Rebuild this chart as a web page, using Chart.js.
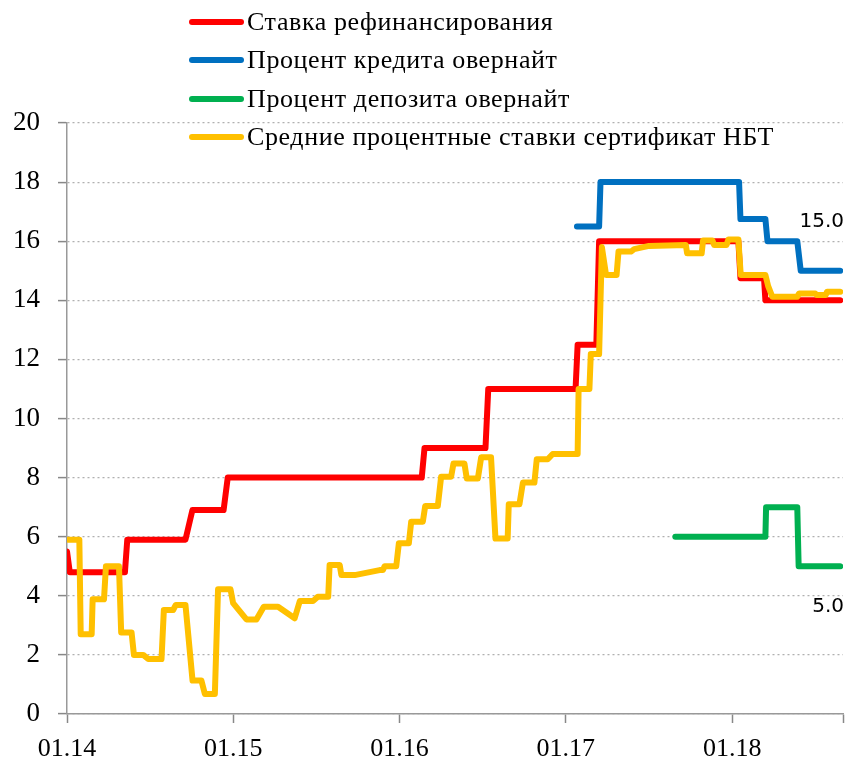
<!DOCTYPE html>
<html>
<head>
<meta charset="utf-8">
<script src="https://cdn.jsdelivr.net/npm/chart.js@4/dist/chart.umd.min.js"></script>
<style>
  body { margin: 0; background: #fff; }
  #wrap { position: relative; width: 861px; height: 764px; }
  #legend { position: absolute; left: 189px; top: 3px; font-family: "Liberation Serif", serif; font-size: 26px; letter-spacing: 0.6px; color: #000; }
  #legend div { height: 38.3px; display: flex; align-items: center; }
  #legend span.swatch { display: inline-block; width: 55px; height: 6px; border-radius: 3px; margin-right: 3px; }
</style>
</head>
<body>
<div id="wrap">
  <canvas id="chart" width="861" height="764"></canvas>
  <div id="legend"></div>
</div>
<script>
// x = months since 01.2014
const refiX = [0, 0.2, 4.18, 4.35, 8.55, 9.05, 11.3, 11.6, 25.6, 25.8, 30.2, 30.4, 36.7, 36.85, 38.2, 38.4, 48.45, 48.6, 50.3, 50.4, 55.8];
const refiY = [5.5, 4.8, 4.8, 5.9, 5.9, 6.9, 6.9, 8.0, 8.0, 9.0, 9.0, 11.0, 11.0, 12.5, 12.5, 16.0, 16.0, 14.75, 14.75, 14.0, 14.0];

const creditX = [36.8, 38.4, 38.5, 48.5, 48.6, 50.4, 50.55, 52.7, 52.95, 55.8];
const creditY = [16.5, 16.5, 18, 18, 16.75, 16.75, 16, 16, 15, 15];

const depositX = [43.9, 50.4, 50.45, 52.7, 52.8, 55.8];
const depositY = [6, 6, 7, 7, 5, 5];

const certX = [0.05, 0.89, 0.99, 1.78, 1.85, 2.67, 2.81, 3.75, 3.91, 4.66, 4.83, 5.5, 5.86, 6.82, 6.99, 7.66, 7.85, 8.55, 9.06, 9.7,
  9.95, 10.67, 10.9, 11.8, 11.99, 12.95, 13.67, 14.2, 15.23, 16.43, 16.8, 17.75, 18.1, 18.85, 18.95, 19.68, 19.8, 20.76, 22.56, 22.8,
  22.92, 23.76, 23.95, 24.67, 24.84, 25.68, 25.85, 26.76, 27.0, 27.72, 27.89, 28.68, 28.85, 29.65, 29.89, 30.6, 30.92, 31.8, 31.88, 32.65,
  32.9, 33.73, 33.9, 34.69, 35.05, 36.85, 36.92, 37.7, 37.8, 38.4, 38.6, 38.9, 39.66, 39.8, 40.7, 40.93, 42.0, 44.66, 44.75, 45.8,
  45.9, 46.58, 46.7, 47.59, 47.73, 48.45, 48.62, 50.4, 50.6, 50.9, 52.7, 52.83, 54.0, 54.1, 54.75, 54.85, 55.8];
const certY = [5.9, 5.9, 2.7, 2.7, 3.88, 3.88, 5.0, 5.0, 2.76, 2.76, 2.0, 2.0, 1.86, 1.86, 3.52, 3.52, 3.69, 3.69, 1.13, 1.13,
  0.68, 0.68, 4.22, 4.22, 3.75, 3.2, 3.2, 3.63, 3.63, 3.24, 3.82, 3.82, 3.97, 3.97, 5.04, 5.04, 4.7, 4.7, 4.87, 4.87,
  5.0, 5.0, 5.78, 5.78, 6.51, 6.51, 7.04, 7.04, 8.03, 8.03, 8.48, 8.48, 7.97, 7.97, 8.69, 8.69, 5.94, 5.94, 7.1, 7.1,
  7.83, 7.83, 8.62, 8.62, 8.8, 8.8, 11.0, 11.0, 12.18, 12.18, 15.8, 14.86, 14.86, 15.65, 15.65, 15.73, 15.84, 15.87, 15.59, 15.59,
  16.02, 16.02, 15.87, 15.87, 16.06, 16.06, 14.86, 14.86, 14.48, 14.12, 14.12, 14.23, 14.23, 14.18, 14.18, 14.29, 14.29];

const labels = ['Ставка рефинансирования', 'Процент кредита овернайт', 'Процент депозита овернайт', 'Средние процентные ставки сертификат НБТ'];
const colors = ['#ff0000', '#0070c0', '#00b050', '#ffc000'];

function pts(xs, ys) { return xs.map((x, i) => ({ x: x, y: ys[i] })); }

// end-value labels next to overnight lines
const endLabels = {
  id: 'endLabels',
  afterDatasetsDraw(chart) {
    const ctx = chart.ctx;
    ctx.save();
    ctx.font = '20px "DejaVu Sans"';
    ctx.fillStyle = '#000';
    ctx.textAlign = 'right';
    ctx.textBaseline = 'middle';
    [[1, -49], [2, 41]].forEach(([di, dy]) => {
      const data = chart.data.datasets[di].data;
      const last = data[data.length - 1];
      const y = chart.scales.y.getPixelForValue(last.y);
      ctx.fillText(last.y.toFixed(1), chart.chartArea.right + 1, y + dy);
    });
    ctx.restore();
  }
};

const series = [pts(refiX, refiY), pts(creditX, creditY), pts(depositX, depositY), pts(certX, certY)];

const chart = new Chart(document.getElementById('chart'), {
  type: 'line',
  data: {
    datasets: series.map((d, i) => ({
      label: labels[i],
      data: d,
      borderColor: colors[i],
      backgroundColor: colors[i],
      borderWidth: 6,
      pointRadius: 0,
      tension: 0,
      borderJoinStyle: 'round',
      borderCapStyle: 'round',
      order: i === 3 ? 0 : 1
    }))
  },
  options: {
    responsive: false,
    animation: false,
    layout: { padding: { top: 123, right: 18, left: 0, bottom: 0 } },
    plugins: { legend: { display: false }, tooltip: { enabled: false } },
    scales: {
      x: {
        type: 'linear',
        min: 0,
        max: 56,
        afterFit: s => { s.height = 50; },
        ticks: {
          stepSize: 12,
          padding: 11,
          color: '#000',
          font: { family: '"Liberation Serif"', size: 26 },
          callback: v => v % 12 === 0 ? '01.' + (14 + v / 12) : ''
        },
        grid: { drawOnChartArea: false, drawTicks: true, tickLength: 9, tickColor: '#888', tickWidth: 1.5 },
        border: { color: '#999', width: 1.5 }
      },
      y: {
        min: 0,
        max: 20,
        afterFit: s => { s.width = 67; },
        ticks: {
          stepSize: 2,
          padding: 18,
          color: '#000',
          font: { family: '"Liberation Serif"', size: 27 }
        },
        grid: { color: '#b0b0b0', lineWidth: 1.2, tickLength: 9, tickColor: '#888', tickWidth: 1.5, tickBorderDash: [] },
        border: { color: '#999', width: 1.5, dash: [2, 3] }
      }
    }
  },
  plugins: [endLabels]
});

const legend = document.getElementById('legend');
labels.forEach((l, i) => {
  const row = document.createElement('div');
  row.innerHTML = '<span class="swatch" style="background:' + colors[i] + '"></span><span>' + l + '</span>';
  legend.appendChild(row);
});
</script>
</body>
</html>
